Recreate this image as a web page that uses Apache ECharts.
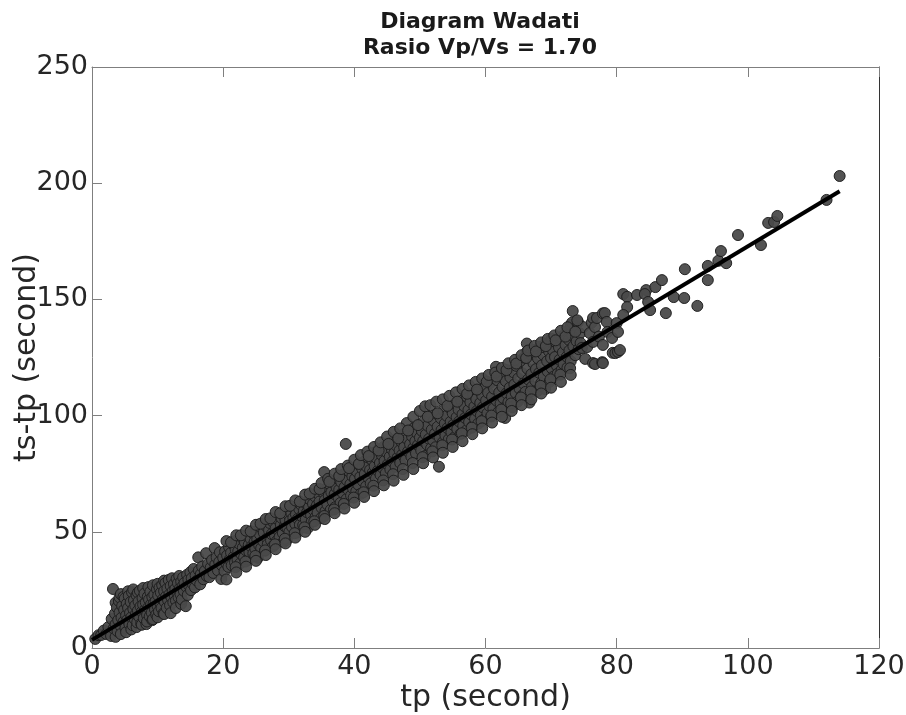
<!DOCTYPE html>
<html>
<head>
<meta charset="utf-8">
<script src="https://cdn.jsdelivr.net/npm/echarts@6/dist/echarts.min.js"></script>
<style>html,body{margin:0;padding:0;background:#fff}#c{width:906px;height:715px}</style>
</head>
<body>
<div id="c"></div>
<script>
const titleLines = ['Diagram Wadati', 'Rasio Vp/Vs = 1.70'];
const xName = 'tp (second)';
const yName = 'ts-tp (second)';
const xRange = [0, 120, 20];
const yRange = [0, 250, 50];

// regression line endpoints [tp, ts-tp]
const fitLine = [[0, 3.5], [114, 196.5]];

const pts00to10 = [[0.5,3.9],[1.0,5.5],[1.4,5.6],[1.8,7.5],[2.2,6.0],[2.5,9.0],[2.9,5.2],[3.0,12.5],[3.2,25.4],[3.3,8.4],[3.5,14.8],[3.6,10.2],[3.6,19.5],[3.6,4.8],[3.8,17.5],[3.9,7.2],[4.0,12.0],[4.1,20.2],[4.2,15.3],[4.2,21.8],[4.4,23.2],[4.4,9.3],[4.4,6.0],[4.5,13.0],[4.6,18.1],[4.8,11.2],[4.8,22.0],[4.9,16.4],[5.0,21.3],[5.1,8.6],[5.2,14.0],[5.2,6.8],[5.3,19.0],[5.4,12.1],[5.5,17.2],[5.5,24.4],[5.6,22.4],[5.7,10.3],[5.8,15.1],[5.9,19.8],[6.0,13.2],[6.0,8.0],[6.1,24.0],[6.2,9.8],[6.3,16.8],[6.3,25.2],[6.4,20.6],[6.5,12.5],[6.6,18.3],[6.7,14.6],[6.8,22.7],[6.8,9.0],[6.9,11.0],[7.0,16.1],[7.0,23.8],[7.1,20.0],[7.2,13.4],[7.3,24.6],[7.4,17.9],[7.5,10.5],[7.6,15.6],[7.6,10.0],[7.7,21.5],[7.8,18.6],[7.8,25.8],[7.9,12.8],[8.0,23.4],[8.1,16.4],[8.2,19.6],[8.3,10.3],[8.4,14.2],[8.4,11.4],[8.5,22.0],[8.6,17.4],[8.6,26.2],[8.7,20.8],[8.8,13.6],[8.9,24.2],[9.0,18.8],[9.1,15.2],[9.2,21.9],[9.2,12.0],[9.3,12.4],[9.3,27.0],[9.4,19.2],[9.5,23.0],[9.6,16.6],[9.7,20.1],[9.8,14.4],[9.9,25.3],[10.0,18.0],[10.0,27.6],[10.0,13.2]];
const pts10to20 = [[10.1,22.6],[10.2,15.8],[10.3,26.0],[10.4,19.4],[10.5,23.8],[10.6,17.2],[10.7,27.1],[10.8,21.0],[10.9,14.9],[11.0,24.5],[11.0,29.0],[11.0,14.6],[11.1,19.8],[11.2,28.0],[11.3,22.2],[11.4,17.3],[11.5,25.6],[11.6,20.6],[11.7,29.3],[11.8,23.0],[11.9,18.4],[12.0,15.0],[12.0,26.7],[12.1,21.9],[12.2,30.0],[12.3,24.4],[12.4,19.6],[12.5,27.5],[12.6,22.8],[12.7,25.4],[12.8,20.4],[12.8,17.2],[12.9,29.8],[13.0,24.0],[13.1,27.9],[13.2,21.8],[13.3,31.0],[13.4,25.7],[13.5,23.1],[13.6,28.6],[13.6,19.0],[13.7,20.9],[13.8,26.5],[13.9,30.4],[14.0,24.6],[14.1,28.0],[14.3,18.0],[14.4,26.3],[14.5,31.5],[14.6,22.8],[14.7,29.4],[14.8,26.9],[15.0,32.6],[15.1,24.9],[15.2,30.0],[15.4,27.5],[15.5,34.0],[15.7,26.1],[15.8,31.2],[16.0,29.0],[16.2,39.0],[16.3,33.4],[16.5,27.4],[16.6,31.8],[16.8,35.0],[17.0,29.6],[17.2,33.1],[17.4,40.8],[17.5,31.0],[17.7,36.2],[17.9,30.5],[18.1,34.6],[18.3,37.8],[18.5,32.3],[18.7,43.0],[18.8,35.9],[19.0,39.0],[19.2,33.4],[19.4,37.0],[19.5,41.2],[19.7,29.7],[19.8,35.6],[20.0,38.8]];
const pts20to30 = [[20.2,33.0],[20.3,41.6],[20.5,36.4],[20.6,39.8],[20.8,34.9],[20.9,43.5],[21.0,38.1],[21.2,41.0],[21.3,35.6],[21.5,44.6],[21.6,39.2],[21.8,36.9],[21.9,42.4],[22.0,46.2],[22.2,38.0],[22.3,41.6],[22.5,44.8],[22.6,36.4],[22.8,40.3],[22.9,47.4],[23.0,43.2],[23.2,39.0],[23.3,45.6],[23.5,42.0],[23.6,48.3],[23.8,37.9],[23.9,44.4],[24.0,41.3],[24.2,47.0],[24.3,43.6],[24.5,49.5],[24.6,40.7],[24.8,45.8],[24.9,42.8],[25.0,50.1],[25.2,46.7],[25.3,38.8],[25.5,44.2],[25.6,48.9],[25.8,42.9],[25.9,51.4],[26.1,46.0],[26.2,49.6],[26.4,41.9],[26.5,52.6],[26.7,47.2],[26.8,44.6],[27.0,50.6],[27.1,53.8],[27.3,46.3],[27.4,49.0],[27.6,43.8],[27.7,54.0],[27.9,48.4],[28.0,51.5],[28.2,46.1],[28.3,55.4],[28.5,50.2],[28.6,47.7],[28.8,53.0],[28.9,56.0],[29.1,49.5],[29.2,45.6],[29.4,52.4],[29.5,55.1],[29.7,46.5],[29.8,51.6],[30.0,57.2]];
const pts30to40 = [[30.1,50.0],[30.2,54.8],[30.4,58.3],[30.5,52.1],[30.7,56.0],[30.8,60.2],[31.0,53.4],[31.1,57.5],[31.3,49.7],[31.4,55.6],[31.6,59.8],[31.7,53.0],[31.9,61.6],[32.0,56.7],[32.2,52.9],[32.3,59.0],[32.5,62.4],[32.6,55.3],[32.8,58.4],[32.9,51.6],[33.1,60.6],[33.2,64.0],[33.4,57.2],[33.5,54.3],[33.7,62.0],[33.8,59.3],[34.0,65.2],[34.1,56.4],[34.3,61.4],[34.4,58.2],[34.6,66.1],[34.7,63.0],[34.9,55.8],[35.0,60.4],[35.2,67.2],[35.4,75.7],[35.5,63.6],[35.6,58.9],[35.8,68.4],[35.9,61.7],[36.1,65.5],[36.2,70.6],[36.4,59.4],[36.5,67.0],[36.7,63.2],[36.8,71.3],[37.0,66.2],[37.1,60.6],[37.3,69.0],[37.4,73.0],[37.6,64.6],[37.7,68.1],[37.9,62.4],[38.0,71.4],[38.2,66.9],[38.3,74.6],[38.5,69.2],[38.7,87.8],[38.8,64.0],[38.9,72.1],[39.1,68.0],[39.2,76.0],[39.4,70.5],[39.5,65.6],[39.7,73.9],[39.8,68.7],[40.0,77.0]];
const pts40to50 = [[40.1,72.8],[40.3,67.5],[40.4,75.9],[40.6,70.3],[40.7,79.0],[40.9,73.6],[41.0,66.4],[41.2,77.2],[41.3,71.8],[41.5,80.2],[41.6,74.9],[41.8,69.5],[41.9,78.0],[42.1,82.0],[42.2,73.1],[42.4,76.6],[42.5,70.8],[42.7,80.9],[42.8,75.4],[43.0,84.0],[43.1,78.2],[43.3,72.9],[43.4,81.7],[43.6,76.3],[43.7,85.5],[43.9,79.6],[44.0,74.4],[44.2,83.0],[44.3,77.6],[44.5,86.6],[44.6,80.5],[44.8,75.2],[44.9,84.3],[45.1,79.0],[45.2,88.0],[45.4,82.3],[45.5,76.8],[45.7,85.6],[45.8,80.2],[46.0,89.2],[46.1,83.8],[46.3,78.0],[46.4,87.1],[46.6,81.9],[46.7,90.6],[46.9,85.0],[47.0,79.6],[47.2,88.6],[47.3,83.2],[47.5,92.0],[47.6,86.4],[47.8,80.8],[48.0,96.8],[48.1,89.8],[48.2,84.6],[48.4,93.2],[48.5,87.7],[48.7,82.3],[48.8,91.1],[49.0,86.0],[49.1,94.6],[49.3,89.0],[49.4,83.8],[49.6,92.4],[49.7,87.3],[49.9,96.0],[50.0,90.5]];
const pts50to60 = [[50.2,85.0],[50.3,93.4],[50.5,89.1],[50.6,97.6],[50.8,82.6],[50.9,91.8],[51.1,87.5],[51.2,95.6],[51.4,90.0],[51.5,99.4],[51.7,85.9],[51.8,93.9],[52.0,89.4],[52.1,97.8],[52.3,92.2],[52.4,86.4],[52.6,100.8],[52.7,95.2],[52.9,78.0],[53.0,90.6],[53.2,98.8],[53.3,93.8],[53.5,88.5],[53.6,102.2],[53.8,96.6],[53.9,91.4],[54.1,99.9],[54.2,94.6],[54.4,89.8],[54.5,103.5],[54.7,97.4],[54.8,92.8],[55.0,101.0],[55.1,96.0],[55.3,90.7],[55.4,105.0],[55.6,99.3],[55.7,94.2],[55.9,102.6],[56.0,97.5],[56.2,92.1],[56.3,106.4],[56.5,100.6],[56.6,95.6],[56.8,104.0],[56.9,99.0],[57.1,93.6],[57.2,108.0],[57.4,102.4],[57.5,97.2],[57.7,105.8],[57.8,100.5],[58.0,95.3],[58.1,109.2],[58.3,103.9],[58.4,98.6],[58.6,107.1],[58.7,102.0],[58.9,96.6],[59.0,111.0],[59.2,105.4],[59.3,100.1],[59.5,108.7],[59.6,103.6],[59.8,98.4],[60.0,112.4]];
const pts60to70 = [[60.1,106.5],[60.3,101.0],[60.4,109.8],[60.6,104.2],[60.7,114.0],[60.9,99.6],[61.0,108.1],[61.2,103.0],[61.3,111.6],[61.6,121.0],[61.7,106.4],[61.8,115.2],[62.0,101.6],[62.1,110.0],[62.3,105.2],[62.4,117.0],[62.6,112.4],[62.7,107.6],[62.9,103.2],[63.0,99.0],[63.1,114.8],[63.2,109.6],[63.4,119.0],[63.5,105.8],[63.7,112.0],[63.8,116.4],[64.0,108.2],[64.1,103.6],[64.3,118.6],[64.4,113.4],[64.6,109.8],[64.7,121.4],[64.9,106.0],[65.0,116.0],[65.2,111.6],[65.3,123.4],[65.5,108.4],[65.6,118.2],[65.8,113.8],[65.9,125.0],[66.1,110.2],[66.3,131.0],[66.3,127.4],[66.4,120.2],[66.5,115.6],[66.7,105.6],[66.8,126.4],[67.0,117.8],[67.1,112.4],[67.3,122.6],[67.4,128.2],[67.6,115.0],[67.7,120.0],[67.9,110.6],[68.0,124.6],[68.2,118.4],[68.3,129.6],[68.5,114.0],[68.6,121.6],[68.8,126.2],[68.8,129.5],[68.9,116.8],[69.1,111.4],[69.2,131.0],[69.4,123.4],[69.5,119.0],[69.7,127.6],[69.8,114.6],[70.0,124.8]];
const pts70to80 = [[70.1,120.4],[70.1,133.0],[70.3,128.0],[70.4,116.8],[70.6,125.2],[70.7,131.6],[70.9,121.4],[71.0,118.0],[71.2,129.4],[71.3,124.0],[71.5,133.8],[71.6,119.6],[71.8,127.2],[71.9,122.2],[72.1,135.0],[72.2,130.4],[72.4,125.4],[72.5,120.6],[72.7,132.6],[72.8,128.0],[73.0,139.0],[73.0,123.4],[73.2,134.6],[73.2,140.0],[73.3,145.0],[73.4,129.8],[73.6,136.8],[73.7,126.0],[73.9,132.0],[74.1,140.2],[74.2,128.6],[74.4,135.4],[74.5,131.2],[74.7,129.1],[74.9,138.1],[75.2,124.4],[75.5,129.5],[75.9,135.5],[76.2,140.0],[76.4,131.7],[76.4,142.0],[76.4,122.6],[76.7,138.1],[76.7,122.2],[77.0,142.0],[77.3,134.0],[77.8,123.0],[77.9,130.4],[77.9,144.0],[77.9,122.6],[78.2,144.1],[78.5,140.3],[78.6,136.0],[79.3,133.4],[79.4,127.0],[79.8,126.9],[80.0,139.8],[80.2,136.0],[80.2,127.4],[80.5,128.2]];
const pts80to115 = [[81.0,152.3],[81.6,151.1],[83.1,151.9],[84.5,154.0],[84.3,152.3],[85.9,155.3],[86.9,158.3],[84.8,148.9],[85.1,145.4],[88.7,151.0],[90.3,150.6],[92.3,147.2],[87.5,144.1],[81.6,146.7],[81.0,143.3],[90.4,163.0],[93.9,164.4],[95.5,166.6],[96.7,165.6],[93.9,158.3],[95.9,170.8],[98.5,177.7],[102.0,173.4],[103.1,182.9],[104.0,183.3],[104.5,185.9],[112.0,192.8],[114.0,203.1]];
// extra points along the upper and lower parts of the band (20 < tp < 75)
const ptsUpperBand = [[20.5,46.0],[21.2,45.5],[22.0,48.5],[22.7,48.5],[23.5,50.5],[24.2,50.2],[25.0,53.0],[25.7,53.5],[26.5,55.5],[27.2,55.8],[28.0,58.5],[28.7,58.0],[29.5,61.0],[30.2,61.2],[31.0,63.5],[31.7,63.0],[32.5,66.0],[33.2,66.5],[34.0,68.5],[34.7,68.4],[35.0,71.0],[36.0,72.8],[36.2,71.6],[37.0,75.0],[37.7,74.0],[38.0,77.0],[39.0,78.5],[39.2,77.4],[40.0,81.0],[40.7,79.2],[41.0,83.0],[42.0,84.5],[42.2,82.6],[43.0,86.5],[43.7,85.0],[44.0,88.5],[45.0,91.0],[45.2,87.8],[46.0,93.0],[46.7,90.2],[47.0,94.5],[48.2,93.6],[49.0,99.5],[49.7,95.9],[50.0,102.0],[50.8,104.0],[51.2,99.5],[51.6,104.5],[52.5,106.0],[52.7,101.0],[53.5,107.0],[54.2,104.2],[54.5,108.5],[55.5,110.0],[55.7,106.0],[56.5,111.5],[57.2,109.4],[57.5,113.0],[58.5,114.5],[58.7,111.2],[59.5,116.0],[60.2,114.6],[60.5,117.5],[61.5,118.5],[61.7,116.8],[62.5,120.5],[63.2,119.6],[63.5,122.5],[64.5,124.0],[64.7,122.4],[65.5,126.0],[66.2,124.8],[66.5,128.0],[67.5,130.0],[67.7,127.6],[68.5,131.5],[69.2,129.9],[69.5,133.0],[70.5,134.5],[70.7,132.4],[71.5,136.5],[72.2,134.0],[72.5,138.0],[73.7,136.1],[74.0,141.0]];
const ptsLowerBand = [[20.5,29.5],[21.9,34.8],[22.0,32.5],[23.4,37.2],[23.5,35.0],[24.9,39.6],[25.0,37.5],[26.4,42.0],[26.5,40.0],[27.9,44.6],[28.0,42.5],[29.4,47.0],[29.5,45.0],[30.9,49.4],[31.0,47.5],[32.4,51.9],[32.5,50.0],[33.9,54.5],[34.0,53.0],[35.4,56.8],[35.5,55.5],[36.9,59.6],[37.0,58.0],[38.4,62.0],[38.5,60.0],[39.9,64.7],[40.0,62.5],[41.4,67.0],[41.5,65.0],[42.9,69.8],[43.0,67.5],[44.4,72.1],[44.5,70.0],[45.9,74.8],[46.0,72.0],[47.4,77.0],[47.5,74.5],[48.9,79.6],[49.0,77.0],[50.4,82.1],[50.5,79.5],[51.9,84.6],[52.0,82.0],[53.4,87.2],[53.5,84.0],[54.9,89.7],[55.0,86.5],[56.4,92.4],[56.5,89.0],[57.9,94.8],[58.0,92.0],[59.4,97.6],[59.5,94.5],[60.9,100.0],[61.0,97.0],[62.4,102.6],[62.5,99.5],[63.9,105.2],[64.0,102.0],[65.4,107.8],[65.5,104.5],[66.9,110.4],[67.0,107.0],[68.4,112.8],[68.5,109.5],[69.9,115.6],[70.0,112.0],[71.4,117.6],[71.5,114.5],[72.9,120.4],[73.0,117.5]];

const observations = [].concat(pts00to10, pts10to20, pts20to30, pts30to40, pts40to50, pts50to60, pts60to70, pts70to80, pts80to115, ptsUpperBand, ptsLowerBand);

const FONT = 'DejaVu Sans';
const axisGray = '#7f7f7f';
const txt = '#262626';

const chart = echarts.init(document.getElementById('c'), null, {renderer: 'canvas'});
chart.setOption({
  animation: false,
  backgroundColor: '#ffffff',
  title: {
    text: titleLines.join('\n'),
    left: 475, top: 4, textAlign: 'center',
    textStyle: {fontFamily: FONT, fontWeight: 'bold', fontSize: 22, color: '#1a1a1a', lineHeight: 26}
  },
  grid: {left: 92, right: 27, top: 67, bottom: 67, containLabel: false, outerBoundsMode: 'none'},
  xAxis: [{
    type: 'value', min: xRange[0], max: xRange[1], interval: xRange[2], position: 'bottom',
    name: xName, nameLocation: 'middle', nameGap: 35, nameMoveOverlap: false,
    nameTextStyle: {fontFamily: FONT, fontSize: 30, color: txt},
    axisLine: {show: true, onZero: false, lineStyle: {color: axisGray, width: 1}},
    axisTick: {show: true, inside: true, length: 10, lineStyle: {color: axisGray}},
    axisLabel: {fontFamily: FONT, fontSize: 27, color: txt, margin: 5},
    splitLine: {show: false}
  }, {
    type: 'value', min: xRange[0], max: xRange[1], interval: xRange[2], position: 'top',
    axisLine: {show: true, onZero: false, lineStyle: {color: axisGray, width: 1}},
    axisTick: {show: true, inside: true, length: 10, lineStyle: {color: axisGray}},
    axisLabel: {show: false}, splitLine: {show: false}
  }],
  yAxis: [{
    type: 'value', min: yRange[0], max: yRange[1], interval: yRange[2], position: 'left',
    name: yName, nameLocation: 'middle', nameGap: 50, nameRotate: 90, nameMoveOverlap: false,
    nameTextStyle: {fontFamily: FONT, fontSize: 30, color: txt},
    axisLine: {show: true, onZero: false, lineStyle: {color: axisGray, width: 1}},
    axisTick: {show: true, inside: true, length: 10, lineStyle: {color: axisGray}},
    axisLabel: {fontFamily: FONT, fontSize: 27, color: txt, margin: 4},
    splitLine: {show: false}
  }, {
    type: 'value', min: yRange[0], max: yRange[1], interval: yRange[2], position: 'right',
    axisLine: {show: true, onZero: false, lineStyle: {color: '#333333', width: 1}},
    axisTick: {show: false}, axisLabel: {show: false}, splitLine: {show: false}
  }],
  series: [{
    type: 'scatter',
    data: observations,
    symbol: 'circle', symbolSize: 11,
    itemStyle: {color: '#4a4a4a', borderColor: '#1c1c1c', borderWidth: 1, opacity: 0.95},
    z: 2
  }, {
    type: 'line',
    data: fitLine,
    symbol: 'none',
    lineStyle: {color: '#000000', width: 4},
    z: 3
  }]
});
</script>
</body>
</html>
